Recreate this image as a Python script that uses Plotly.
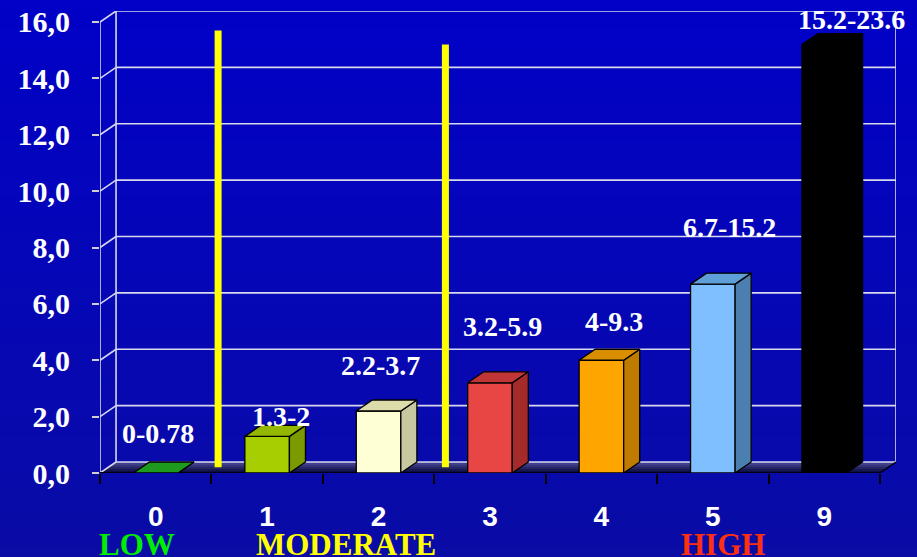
import plotly.graph_objects as go

# ---------------- data ----------------
categories = ["0", "1", "2", "3", "4", "5", "9"]
bar_values = [0.0, 1.3, 2.2, 3.2, 4.0, 6.7, 15.2]
range_labels = ["0-0.78", "1.3-2", "2.2-3.7", "3.2-5.9", "4-9.3", "6.7-15.2", "15.2-23.6"]
y_ticks = [0, 2, 4, 6, 8, 10, 12, 14, 16]
group_names = ["LOW", "MODERATE", "HIGH"]
divider_x = [0.56, 2.6]
divider_top = [15.7, 15.2]

# ---------------- styles ----------------
front_colors = ["#1E9B1E", "#A6CE00", "#FFFFD6", "#E84545", "#FFA500", "#7FBFFF", "#000000"]
side_colors = ["#157015", "#7A9A00", "#C8C8A0", "#A52A2A", "#BF7A00", "#4A7FB0", "#000000"]
top_colors = ["#1E9B1E", "#94B800", "#DCDCAA", "#C03535", "#D98E00", "#5F9FD8", "#000000"]
group_colors = ["#00EE00", "#FFFF00", "#FF3010"]
group_x = [-0.17, 1.71, 5.09]
label_shift = [(2, 40), (14, 20), (2, 45), (13, 56), (13, 39), (17, 57), (27, 25)]

DX = 0.144   # depth in x units
DY = 0.39    # depth in y units
HW = 0.2     # half bar width
X0, X1 = -0.5, len(categories) - 0.5
Y_TOP = max(y_ticks)

fig = go.Figure()

# background gradient
shapes = []
n = 40
for k in range(n):
    t = k / (n - 1)
    r = int(0 + 12 * t)
    g = int(0 + 14 * t)
    b = int(204 - 44 * t)
    shapes.append(dict(type="rect", xref="paper", yref="paper",
                       x0=-0.2, x1=1.2, y0=1.2 - (k + 1) * 1.6 / n, y1=1.2 - k * 1.6 / n + 0.001,
                       fillcolor=f"rgb({r},{g},{b})", line=dict(width=0), layer="below"))

# floor gradient (back light -> front dark)
m = 6
for k in range(m):
    fa = k / m
    fb = (k + 1) / m
    t = k / (m - 1)
    col = f"rgb({int(80 - 68 * t)},{int(80 - 68 * t)},{int(150 - 100 * t)})"
    ya, yb = DY * (1 - fa), DY * (1 - fb)
    xa, xb = DX * (1 - fa), DX * (1 - fb)
    path = (f"M {X0 + xa} {ya} L {X1 + xa} {ya} L {X1 + xb} {yb} L {X0 + xb} {yb} Z")
    shapes.append(dict(type="path", path=path, xref="x", yref="y",
                       fillcolor=col, line=dict(width=0), layer="below"))

grid_col = "#D8D8EC"
# back-wall gridlines and left-wall diagonals
for v in y_ticks:
    shapes.append(dict(type="line", xref="x", yref="y", x0=X0 + DX, x1=X1 + DX,
                       y0=v + DY, y1=v + DY, line=dict(color=grid_col, width=1.6), layer="below"))
    shapes.append(dict(type="line", xref="x", yref="y", x0=X0, x1=X0 + DX,
                       y0=v, y1=v + DY, line=dict(color=grid_col, width=1.6), layer="below"))
# wall verticals
shapes.append(dict(type="line", xref="x", yref="y", x0=X0, x1=X0, y0=0, y1=Y_TOP,
                   line=dict(color=grid_col, width=1.6), layer="below"))
shapes.append(dict(type="line", xref="x", yref="y", x0=X0 + DX, x1=X0 + DX, y0=DY, y1=Y_TOP + DY,
                   line=dict(color=grid_col, width=1.6), layer="below"))
shapes.append(dict(type="line", xref="x", yref="y", x0=X1 + DX, x1=X1 + DX, y0=DY, y1=Y_TOP + DY,
                   line=dict(color=grid_col, width=1.6), layer="below"))
# floor front edge
shapes.append(dict(type="line", xref="x", yref="y", x0=X0, x1=X1, y0=0, y1=0,
                   line=dict(color="#000010", width=2), layer="below"))
shapes.append(dict(type="line", xref="x", yref="y", x0=X1, x1=X1 + DX, y0=0, y1=DY,
                   line=dict(color="#000010", width=1.5), layer="below"))

# yellow divider lines
for xd, yt in zip(divider_x, divider_top):
    shapes.append(dict(type="line", xref="x", yref="y", x0=xd, x1=xd, y0=0.2, y1=yt,
                       line=dict(color="#FFFF00", width=7), layer="above"))

# 3D bars
for i, v in enumerate(bar_values):
    xl, xr = i - HW, i + HW
    faces = [
        ([xl, xr, xr, xl, xl], [0, 0, v, v, 0], front_colors[i]),
        ([xr, xr + DX, xr + DX, xr, xr], [0, DY, v + DY, v, 0], side_colors[i]),
        ([xl, xl + DX, xr + DX, xr, xl], [v, v + DY, v + DY, v, v], top_colors[i]),
    ]
    for fx, fy, col in faces:
        fig.add_trace(go.Scatter(x=fx, y=fy, mode="lines", fill="toself", fillcolor=col,
                                 line=dict(color="#000000", width=1.3),
                                 hoverinfo="skip", showlegend=False))

annotations = []
for i, (v, lab) in enumerate(zip(bar_values, range_labels)):
    sx, sy = label_shift[i]
    annotations.append(dict(x=i, y=v, xref="x", yref="y", text=lab, showarrow=False,
                            xshift=sx, yshift=sy, xanchor="center", yanchor="middle",
                            font=dict(family="Liberation Serif", size=28, color="white", weight="bold")))
for name, gx, gc in zip(group_names, group_x, group_colors):
    annotations.append(dict(x=gx, y=-0.155, xref="x", yref="paper", text=name, showarrow=False,
                            xanchor="center", yanchor="middle",
                            font=dict(family="Liberation Serif", size=31, color=gc, weight="bold")))

fig.update_layout(
    width=917, height=557,
    margin=dict(l=100, r=21, t=11, b=84),
    paper_bgcolor="#0000C0",
    plot_bgcolor="rgba(0,0,0,0)",
    separators=",.",
    shapes=shapes,
    annotations=annotations,
    showlegend=False,
    xaxis=dict(range=[X0, X1 + DX], tickmode="array", tickvals=list(range(len(categories))),
               ticktext=categories, ticks="", showgrid=False, zeroline=False, showline=False,
               ticklabelstandoff=24, automargin=False,
               tickfont=dict(family="Liberation Sans", size=28, color="white", weight="bold"),
               minor=dict(tick0=-0.5, dtick=1, ticks="outside", ticklen=10, tickwidth=2,
                          tickcolor="#000000", showgrid=False),
               fixedrange=True),
    yaxis=dict(range=[0, Y_TOP + DY], tickmode="array", tickvals=y_ticks, tickformat=".1f",
               ticks="outside", ticklen=7, tickwidth=1.5, tickcolor="#D0D0D0",
               showgrid=False, zeroline=False, showline=False, ticklabelstandoff=16,
               automargin=False,
               tickfont=dict(family="Liberation Serif", size=30, color="white", weight="bold"),
               fixedrange=True),
)

fig.write_html("out.html")
